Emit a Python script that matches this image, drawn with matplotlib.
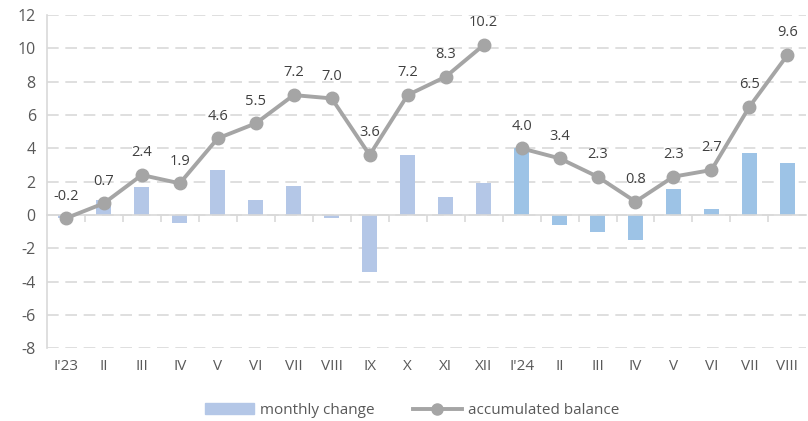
import matplotlib.pyplot as plt
from matplotlib.patches import Patch
from matplotlib.lines import Line2D
import numpy as np

# categories (months, Jan 2023 .. Aug 2024)
months = ["I'23", "II", "III", "IV", "V", "VI", "VII", "VIII", "IX", "X", "XI", "XII",
          "I'24", "II", "III", "IV", "V", "VI", "VII", "VIII"]

# monthly change (bars)
monthly_2023 = [-0.2, 0.9, 1.7, -0.5, 2.7, 0.9, 1.75, -0.2, -3.4, 3.6, 1.1, 1.9]
monthly_2024 = [4.0, -0.6, -1.0, -1.5, 1.55, 0.35, 3.75, 3.15]

# accumulated balance (line, restarts every year)
balance_2023 = [-0.2, 0.7, 2.4, 1.9, 4.6, 5.5, 7.2, 7.0, 3.6, 7.2, 8.3, 10.2]
balance_2024 = [4.0, 3.4, 2.3, 0.8, 2.3, 2.7, 6.5, 9.6]

yticks = list(range(-8, 13, 2))

c23 = '#b4c7e7'
c24 = '#9dc3e6'
cline = '#a5a5a5'
ctext = '#404040'

plt.rcParams['font.family'] = ['Open Sans', 'DejaVu Sans']
plt.rcParams['axes.unicode_minus'] = False

fig = plt.figure(figsize=(8.08, 4.21), dpi=100)
ax = fig.add_axes([0.058, 0.173, 0.94, 0.791])

x23 = np.arange(len(monthly_2023))
x24 = np.arange(len(monthly_2023), len(months))

ax.bar(x23, monthly_2023, width=0.4, color=c23, zorder=2)
ax.bar(x24, monthly_2024, width=0.4, color=c24, zorder=2)

for xs, ys in [(x23, balance_2023), (x24, balance_2024)]:
    ax.plot(xs, ys, color=cline, lw=2.8, marker='o', ms=9, zorder=3)
    for xi, yi in zip(xs, ys):
        ax.annotate(f"{yi:.1f}", (xi, yi), xytext=(0, 16), textcoords='offset points',
                    ha='center', va='center', fontsize=10.5, color=ctext, zorder=4)

ax.set_xlim(-0.5, len(months) - 0.5)
ax.set_ylim(-8, 12)
ax.set_yticks(yticks)
ax.tick_params(axis='y', length=0, labelsize=11.5, labelcolor='#595959', pad=8)
ax.yaxis.grid(True, color='#d9d9d9', lw=1.2, ls=(0, (7, 4)), zorder=0)
ax.set_axisbelow(True)

for s in ['top', 'right']:
    ax.spines[s].set_visible(False)
ax.spines['left'].set_color('#d9d9d9')
ax.spines['left'].set_linewidth(1.2)
ax.spines['bottom'].set_position(('data', 0))
ax.spines['bottom'].set_color('#d9d9d9')
ax.spines['bottom'].set_linewidth(1.2)
ax.set_xticks(np.arange(0.5, len(months) - 0.5))
ax.tick_params(axis='x', length=5, width=1.2, color='#d9d9d9', labelbottom=False)

sec = ax.secondary_xaxis(0)
sec.set_xticks(np.arange(len(months)), months)
sec.tick_params(length=0, labelsize=11, labelcolor='#595959', pad=8)
sec.spines['bottom'].set_visible(False)

handles = [Patch(color=c23, label='monthly change'),
           Line2D([], [], color=cline, lw=2.8, marker='o', ms=8, label='accumulated balance')]
fig.legend(handles=handles, loc='center', bbox_to_anchor=(0.51, 0.025), ncol=2,
           frameon=False, fontsize=11, labelcolor='#595959', handlelength=3.2,
           columnspacing=2.5, handletextpad=0.4)

fig.savefig('out.png', dpi=100)
